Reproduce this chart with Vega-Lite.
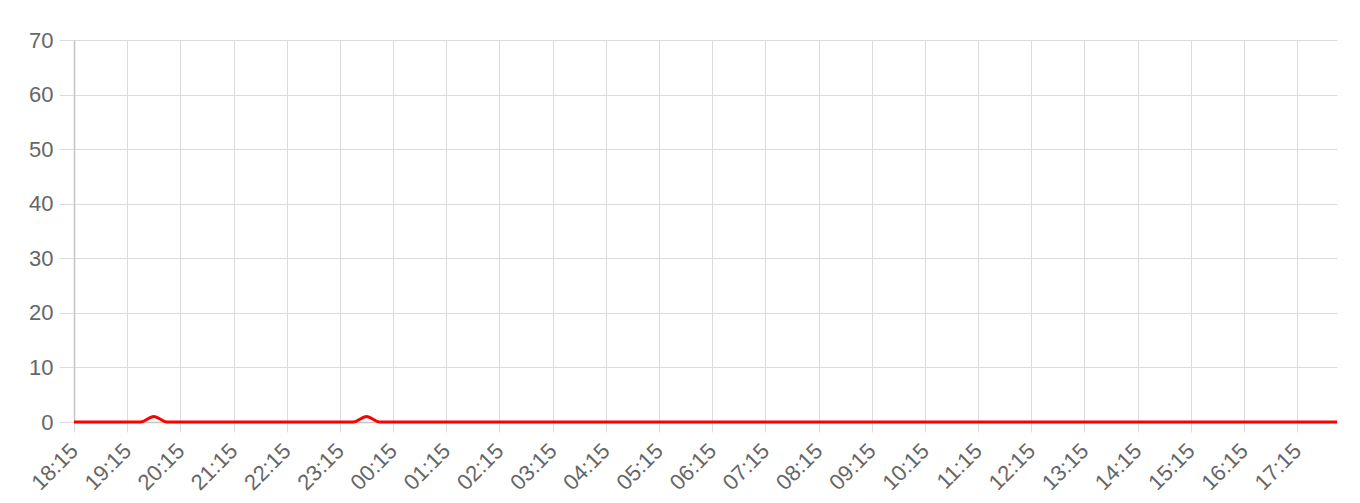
{
  "$schema": "https://vega.github.io/schema/vega-lite/v6.json",
  "background": "white",
  "autosize": "none",
  "padding": {"left": 74, "top": 40, "right": 23, "bottom": 81},
  "width": 1263,
  "height": 382,
  "data": {
    "values": [
      {"time": "2024-01-01T18:15", "value": 0},
      {"time": "2024-01-01T18:30", "value": 0},
      {"time": "2024-01-01T18:45", "value": 0},
      {"time": "2024-01-01T19:00", "value": 0},
      {"time": "2024-01-01T19:15", "value": 0},
      {"time": "2024-01-01T19:30", "value": 0},
      {"time": "2024-01-01T19:45", "value": 1},
      {"time": "2024-01-01T20:00", "value": 0},
      {"time": "2024-01-01T20:15", "value": 0},
      {"time": "2024-01-01T20:30", "value": 0},
      {"time": "2024-01-01T20:45", "value": 0},
      {"time": "2024-01-01T21:00", "value": 0},
      {"time": "2024-01-01T21:15", "value": 0},
      {"time": "2024-01-01T21:30", "value": 0},
      {"time": "2024-01-01T21:45", "value": 0},
      {"time": "2024-01-01T22:00", "value": 0},
      {"time": "2024-01-01T22:15", "value": 0},
      {"time": "2024-01-01T22:30", "value": 0},
      {"time": "2024-01-01T22:45", "value": 0},
      {"time": "2024-01-01T23:00", "value": 0},
      {"time": "2024-01-01T23:15", "value": 0},
      {"time": "2024-01-01T23:30", "value": 0},
      {"time": "2024-01-01T23:45", "value": 1},
      {"time": "2024-01-02T00:00", "value": 0},
      {"time": "2024-01-02T00:15", "value": 0},
      {"time": "2024-01-02T00:30", "value": 0},
      {"time": "2024-01-02T00:45", "value": 0},
      {"time": "2024-01-02T01:00", "value": 0},
      {"time": "2024-01-02T01:15", "value": 0},
      {"time": "2024-01-02T01:30", "value": 0},
      {"time": "2024-01-02T01:45", "value": 0},
      {"time": "2024-01-02T02:00", "value": 0},
      {"time": "2024-01-02T02:15", "value": 0},
      {"time": "2024-01-02T02:30", "value": 0},
      {"time": "2024-01-02T02:45", "value": 0},
      {"time": "2024-01-02T03:00", "value": 0},
      {"time": "2024-01-02T03:15", "value": 0},
      {"time": "2024-01-02T03:30", "value": 0},
      {"time": "2024-01-02T03:45", "value": 0},
      {"time": "2024-01-02T04:00", "value": 0},
      {"time": "2024-01-02T04:15", "value": 0},
      {"time": "2024-01-02T04:30", "value": 0},
      {"time": "2024-01-02T04:45", "value": 0},
      {"time": "2024-01-02T05:00", "value": 0},
      {"time": "2024-01-02T05:15", "value": 0},
      {"time": "2024-01-02T05:30", "value": 0},
      {"time": "2024-01-02T05:45", "value": 0},
      {"time": "2024-01-02T06:00", "value": 0},
      {"time": "2024-01-02T06:15", "value": 0},
      {"time": "2024-01-02T06:30", "value": 0},
      {"time": "2024-01-02T06:45", "value": 0},
      {"time": "2024-01-02T07:00", "value": 0},
      {"time": "2024-01-02T07:15", "value": 0},
      {"time": "2024-01-02T07:30", "value": 0},
      {"time": "2024-01-02T07:45", "value": 0},
      {"time": "2024-01-02T08:00", "value": 0},
      {"time": "2024-01-02T08:15", "value": 0},
      {"time": "2024-01-02T08:30", "value": 0},
      {"time": "2024-01-02T08:45", "value": 0},
      {"time": "2024-01-02T09:00", "value": 0},
      {"time": "2024-01-02T09:15", "value": 0},
      {"time": "2024-01-02T09:30", "value": 0},
      {"time": "2024-01-02T09:45", "value": 0},
      {"time": "2024-01-02T10:00", "value": 0},
      {"time": "2024-01-02T10:15", "value": 0},
      {"time": "2024-01-02T10:30", "value": 0},
      {"time": "2024-01-02T10:45", "value": 0},
      {"time": "2024-01-02T11:00", "value": 0},
      {"time": "2024-01-02T11:15", "value": 0},
      {"time": "2024-01-02T11:30", "value": 0},
      {"time": "2024-01-02T11:45", "value": 0},
      {"time": "2024-01-02T12:00", "value": 0},
      {"time": "2024-01-02T12:15", "value": 0},
      {"time": "2024-01-02T12:30", "value": 0},
      {"time": "2024-01-02T12:45", "value": 0},
      {"time": "2024-01-02T13:00", "value": 0},
      {"time": "2024-01-02T13:15", "value": 0},
      {"time": "2024-01-02T13:30", "value": 0},
      {"time": "2024-01-02T13:45", "value": 0},
      {"time": "2024-01-02T14:00", "value": 0},
      {"time": "2024-01-02T14:15", "value": 0},
      {"time": "2024-01-02T14:30", "value": 0},
      {"time": "2024-01-02T14:45", "value": 0},
      {"time": "2024-01-02T15:00", "value": 0},
      {"time": "2024-01-02T15:15", "value": 0},
      {"time": "2024-01-02T15:30", "value": 0},
      {"time": "2024-01-02T15:45", "value": 0},
      {"time": "2024-01-02T16:00", "value": 0},
      {"time": "2024-01-02T16:15", "value": 0},
      {"time": "2024-01-02T16:30", "value": 0},
      {"time": "2024-01-02T16:45", "value": 0},
      {"time": "2024-01-02T17:00", "value": 0},
      {"time": "2024-01-02T17:15", "value": 0},
      {"time": "2024-01-02T17:30", "value": 0},
      {"time": "2024-01-02T17:45", "value": 0},
      {"time": "2024-01-02T18:00", "value": 0}
    ]
  },
  "mark": {
    "type": "line",
    "color": "#ff0000",
    "strokeWidth": 3,
    "interpolate": "monotone",
    "clip": false
  },
  "encoding": {
    "x": {
      "field": "time",
      "type": "temporal",
      "title": null,
      "scale": {
        "domain": ["2024-01-01T18:15", "2024-01-02T18:00"],
        "nice": false
      },
      "axis": {
        "format": "%H:%M",
        "values": [
          "2024-01-01T18:15", "2024-01-01T19:15", "2024-01-01T20:15", "2024-01-01T21:15",
          "2024-01-01T22:15", "2024-01-01T23:15", "2024-01-02T00:15", "2024-01-02T01:15",
          "2024-01-02T02:15", "2024-01-02T03:15", "2024-01-02T04:15", "2024-01-02T05:15",
          "2024-01-02T06:15", "2024-01-02T07:15", "2024-01-02T08:15", "2024-01-02T09:15",
          "2024-01-02T10:15", "2024-01-02T11:15", "2024-01-02T12:15", "2024-01-02T13:15",
          "2024-01-02T14:15", "2024-01-02T15:15", "2024-01-02T16:15", "2024-01-02T17:15"
        ],
        "labelAngle": -45,
        "labelAlign": "right",
        "labelBaseline": "middle",
        "labelPadding": 15,
        "labelFlush": false,
        "labelOverlap": false,
        "labelFont": "Liberation Sans",
        "labelFontSize": 22,
        "labelColor": "#666666",
        "tickSize": 10,
        "tickColor": "#dcdcdc",
        "gridColor": "#dcdcdc",
        "domainColor": "#c4c4c4",
        "domainWidth": 1.5
      }
    },
    "y": {
      "field": "value",
      "type": "quantitative",
      "title": null,
      "scale": {"domain": [0, 70], "nice": false},
      "axis": {
        "values": [0, 10, 20, 30, 40, 50, 60, 70],
        "labelFont": "Liberation Sans",
        "labelFontSize": 22,
        "labelColor": "#666666",
        "labelPadding": 6,
        "tickSize": 15,
        "tickColor": "#dcdcdc",
        "gridColor": "#dcdcdc",
        "domainColor": "#c4c4c4",
        "domainWidth": 1.5
      }
    }
  },
  "config": {
    "view": {"stroke": null},
    "axis": {"grid": true, "gridOpacity": 1}
  }
}
